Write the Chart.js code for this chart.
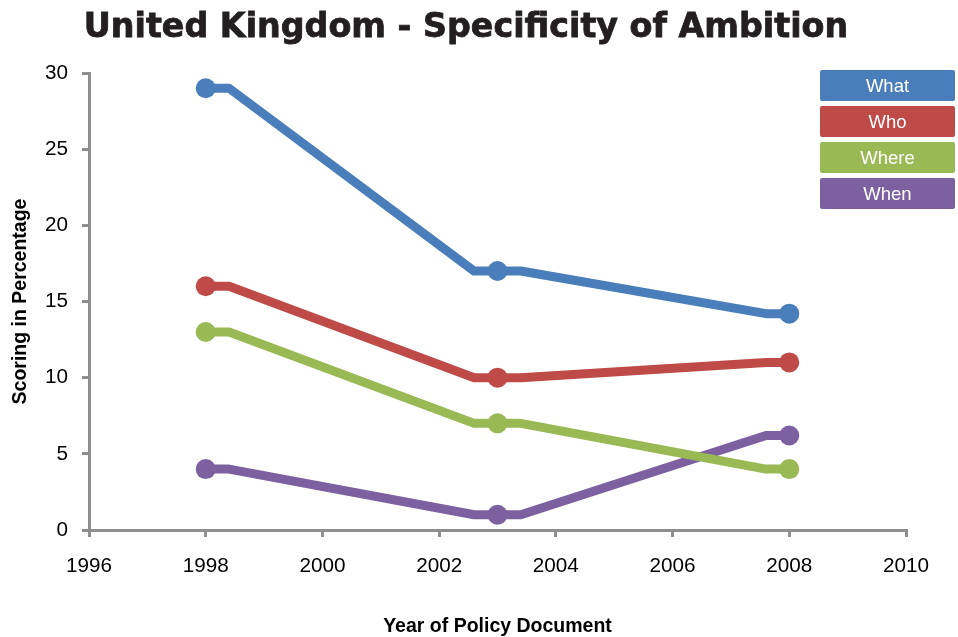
<!DOCTYPE html>
<html>
<head>
<meta charset="utf-8">
<script src="https://cdn.jsdelivr.net/npm/chart.js@4/dist/chart.umd.min.js"></script>
<style>
  html, body { margin: 0; padding: 0; background: #fff; }
  #wrap { position: relative; width: 958px; height: 637px; overflow: hidden; }
  canvas { position: absolute; left: 0; top: 0; }
  #title {
    position: absolute; left: 0; top: 9px; width: 932px; text-align: center;
    font: bold 33.3px 'DejaVu Sans', sans-serif; line-height: 1; color: #231f20;
    -webkit-text-stroke: 0.8px #231f20; white-space: nowrap;
  }
  #legend { position: absolute; left: 820px; top: 70px; width: 135px; }
  .item {
    height: 31px; margin-bottom: 5px; border-radius: 2px; color: #fff;
    font: 18.5px 'Liberation Sans', Arial, sans-serif; line-height: 31px; text-align: center;
  }
</style>
</head>
<body>
<div id="wrap">
  <canvas id="c" width="958" height="637"></canvas>
  <div id="title">United Kingdom - Specificity of Ambition</div>
  <div id="legend"></div>
</div>
<script>
// Years of the policy documents and the scores per dimension
const years = [1998, 2003, 2008];
const seriesNames = ['What', 'Who', 'Where', 'When'];
const whatScores = [29, 17, 14.2];
const whoScores = [16, 10, 11];
const whereScores = [13, 7, 4];
const whenScores = [4, 1, 6.2];
const xTicks = [1996, 1998, 2000, 2002, 2004, 2006, 2008, 2010];
const yTicks = [0, 5, 10, 15, 20, 25, 30];

const colors = ['#4a7ebb', '#be4b48', '#98b954', '#7d60a0'];
const allScores = [whatScores, whoScores, whereScores, whenScores];

const datasets = seriesNames.map((name, i) => ({
  label: name,
  data: years.map((yr, j) => ({ x: yr, y: allScores[i][j] })),
  showLine: false,
  pointRadius: 10,
  pointHoverRadius: 10,
  pointBorderWidth: 0,
  backgroundColor: colors[i],
  borderColor: colors[i]
}));

// Connector lines: a short level run next to each point, straight slope between
const FLAT = 0.4;
const flatLines = {
  id: 'flatLines',
  beforeDatasetDraw(chart, args) {
    const ds = chart.data.datasets[args.index];
    const xs = chart.scales.x, ys = chart.scales.y;
    const ctx = chart.ctx;
    ctx.save();
    ctx.strokeStyle = ds.borderColor;
    ctx.lineWidth = 9;
    ctx.lineJoin = 'round';
    ctx.lineCap = 'butt';
    ctx.beginPath();
    ds.data.forEach((p, i) => {
      const px = xs.getPixelForValue(p.x), py = ys.getPixelForValue(p.y);
      if (i === 0) { ctx.moveTo(px, py); return; }
      const prev = ds.data[i - 1];
      const ppy = ys.getPixelForValue(prev.y);
      ctx.lineTo(xs.getPixelForValue(prev.x + FLAT), ppy);
      ctx.lineTo(xs.getPixelForValue(p.x - FLAT), py);
      ctx.lineTo(px, py);
    });
    ctx.stroke();
    ctx.restore();
  }
};

const axisGrey = '#8e8e8e';
const tickFont = { family: "'Liberation Sans', Arial, sans-serif", size: 20.7 };
const titleFont = { family: "'Liberation Sans', Arial, sans-serif", size: 19.5, weight: 'bold' };

new Chart(document.getElementById('c'), {
  type: 'line',
  data: { datasets },
  plugins: [flatLines],
  options: {
    responsive: false,
    animation: false,
    devicePixelRatio: 1,
    layout: { padding: { top: 73, left: 0, right: 52, bottom: 0 } },
    plugins: { legend: { display: false }, tooltip: { enabled: false }, title: { display: false } },
    scales: {
      x: {
        type: 'linear',
        min: 1996, max: 2010,
        afterFit(s) { s.height = 107; },
        afterBuildTicks(s) { s.ticks = xTicks.map(v => ({ value: v })); },
        ticks: { color: '#000', font: tickFont, padding: 17, maxRotation: 0, callback: v => String(v) },
        grid: { drawOnChartArea: false, drawTicks: true, tickLength: 7, color: axisGrey, lineWidth: 3 },
        border: { display: true, color: axisGrey, width: 3 },
        title: { display: true, text: 'Year of Policy Document', color: '#000', font: titleFont, padding: { top: 0, bottom: -1 } }
      },
      y: {
        min: 0, max: 30,
        afterFit(s) { s.width = 89; },
        afterBuildTicks(s) { s.ticks = yTicks.map(v => ({ value: v })); },
        ticks: { color: '#000', font: tickFont, padding: 14 },
        grid: { drawOnChartArea: false, drawTicks: true, tickLength: 7, color: axisGrey, lineWidth: 3 },
        border: { display: true, color: axisGrey, width: 3 },
        title: { display: true, text: 'Scoring in Percentage', color: '#000', font: titleFont, padding: { top: 9, bottom: 0 } }
      }
    }
  }
});

// Legend boxes
const legend = document.getElementById('legend');
seriesNames.forEach((name, i) => {
  const d = document.createElement('div');
  d.className = 'item';
  d.style.background = colors[i];
  d.textContent = name;
  legend.appendChild(d);
});
</script>
</body>
</html>
